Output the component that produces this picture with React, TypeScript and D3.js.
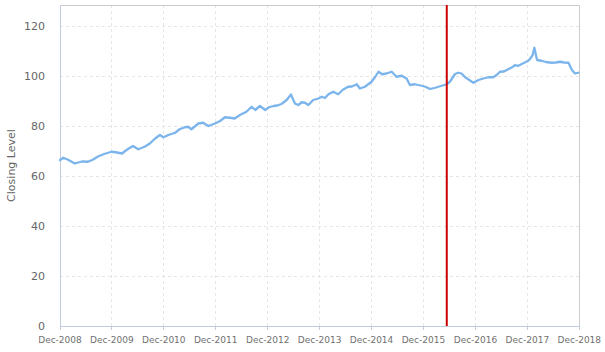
import React from "react";
import * as d3 from "d3";

const dates: string[] = [
  "2008-12-01","2008-12-24","2009-01-27","2009-03-15","2009-05-04","2009-06-16","2009-07-19","2009-08-25","2009-10-07","2009-11-28",
  "2009-12-28","2010-02-10","2010-03-16","2010-04-28","2010-06-04","2010-07-19","2010-08-25","2010-10-01","2010-11-04","2010-11-28",
  "2011-01-07","2011-02-19","2011-03-22","2011-04-28","2011-05-22","2011-06-13","2011-08-01","2011-09-04","2011-10-10","2011-11-25",
  "2012-01-01","2012-02-04","2012-03-10","2012-04-13","2012-05-19","2012-07-04","2012-08-10","2012-09-04","2012-10-07","2012-11-13",
  "2012-12-10","2013-01-10","2013-02-07","2013-03-07","2013-04-13","2013-05-13","2013-06-10","2013-07-04","2013-07-28","2013-08-19",
  "2013-09-13","2013-10-16","2013-11-22","2013-12-16","2014-01-07","2014-02-01","2014-03-07","2014-04-10","2014-05-13","2014-06-19",
  "2014-07-16","2014-08-19","2014-09-10","2014-10-16","2014-12-01","2014-12-25","2015-01-19","2015-02-13","2015-03-16","2015-04-22",
  "2015-05-25","2015-07-01","2015-08-04","2015-08-28","2015-10-01","2015-11-19","2015-12-19","2016-01-16","2016-02-22","2016-04-07",
  "2016-05-13","2016-06-04","2016-07-10","2016-08-01","2016-08-25","2016-09-19","2016-10-16","2016-11-16","2016-12-22","2017-01-25",
  "2017-03-01","2017-04-04","2017-05-01","2017-05-22","2017-06-19","2017-07-19","2017-08-16","2017-09-07","2017-09-25","2017-10-22",
  "2017-11-16","2017-12-07","2017-12-22","2018-01-07","2018-01-19","2018-02-07","2018-03-10","2018-04-10","2018-05-19","2018-06-19",
  "2018-07-19","2018-08-16","2018-09-16","2018-10-10","2018-11-01","2018-11-25"
];

const closingLevels: number[] = [
  66.4,67.3,66.5,65.0,65.8,65.7,66.5,67.8,68.8,69.7,
  69.5,69.0,70.5,72.0,70.7,71.7,73.0,75.0,76.4,75.5,
  76.5,77.3,78.7,79.5,79.7,78.7,81.0,81.3,80.0,81.0,
  82.0,83.5,83.3,83.0,84.4,85.7,87.7,86.4,88.0,86.4,
  87.5,88.0,88.2,88.8,90.4,92.6,89.0,88.4,89.5,89.3,
  88.4,90.4,91.0,91.7,91.2,92.7,93.7,92.7,94.5,95.7,
  95.8,96.7,95.0,95.7,97.7,99.5,101.7,100.7,101.0,101.7,
  99.7,100.1,99.0,96.4,96.7,96.1,95.6,94.8,95.3,96.1,
  96.7,97.7,100.8,101.3,101.0,99.5,98.5,97.3,98.4,99.0,
  99.5,99.5,100.5,101.7,101.8,102.7,103.5,104.4,104.0,104.8,
  105.5,106.1,107.0,108.4,111.3,106.4,106.1,105.6,105.3,105.4,
  105.7,105.4,105.3,102.4,101.0,101.3
];

const xTickDates: string[] = [
  "2008-12-01","2009-12-01","2010-12-01","2011-12-01","2012-12-01","2013-12-01",
  "2014-12-01","2015-12-01","2016-12-01","2017-12-01","2018-12-01"
];
const yTicks: number[] = [0, 20, 40, 60, 80, 100, 120];
const markerDate = "2016-05-13";
const yAxisTitle = "Closing Level";

const W = 605, H = 352;
const left = 60, right = 579.3, top = 5, bottom = 326;

export default function App() {
  const parse = d3.timeParse("%Y-%m-%d");
  const fmt = d3.timeFormat("%b-%Y");
  const x = d3.scaleTime()
    .domain([parse("2008-12-01")!, parse("2018-12-01")!])
    .range([left, right]);
  const y = d3.scaleLinear().domain([0, 128.4]).range([bottom, top]);
  const data = dates.map((d, i) => ({ date: parse(d)!, v: closingLevels[i] }));
  const line = d3.line<{ date: Date; v: number }>()
    .x((d) => x(d.date))
    .y((d) => y(d.v));
  const font = "'DejaVu Sans', Verdana, sans-serif";
  const xm = x(parse(markerDate)!);

  return (
    <svg width={W} height={H} style={{ position: "absolute", left: 0, top: 0, fontFamily: font }}>
      <rect x={0} y={0} width={W} height={H} fill="#fff" />
      {yTicks.map((t) => (
        <line key={"hg" + t} x1={left} x2={right} y1={y(t)} y2={y(t)}
          stroke="#e6e6e6" strokeWidth={1} strokeDasharray="3,3" shapeRendering="crispEdges" />
      ))}
      {xTickDates.map((t) => (
        <line key={"vg" + t} x1={x(parse(t)!)} x2={x(parse(t)!)} y1={top} y2={bottom}
          stroke="#e6e6e6" strokeWidth={1} strokeDasharray="3,3" shapeRendering="crispEdges" />
      ))}
      <rect x={left} y={top} width={right - left} height={bottom - top}
        fill="none" stroke="#cccccc" strokeWidth={1} shapeRendering="crispEdges" />
      <line x1={left} x2={left} y1={top} y2={bottom} stroke="#c0cbe0" shapeRendering="crispEdges" />
      <line x1={left} x2={right} y1={bottom} y2={bottom} stroke="#c0cbe0" shapeRendering="crispEdges" />
      {xTickDates.map((t) => (
        <line key={"tk" + t} x1={x(parse(t)!)} x2={x(parse(t)!)} y1={bottom} y2={bottom + 4}
          stroke="#c0cbe0" shapeRendering="crispEdges" />
      ))}
      <path d={line(data) || ""} fill="none" stroke="#7cb5ec" strokeWidth={2.3}
        strokeLinejoin="round" strokeLinecap="round" />
      <line x1={xm} x2={xm} y1={top} y2={bottom} stroke="#cc0000" strokeWidth={2} />
      {yTicks.map((t) => (
        <text key={"yl" + t} x={45} y={y(t)} dy="0.35em" textAnchor="end"
          fontSize={11} fill="#666666">{t}</text>
      ))}
      {xTickDates.map((t) => (
        <text key={"xl" + t} x={x(parse(t)!)} y={343} textAnchor="middle"
          fontSize={9} fill="#707070">{fmt(parse(t)!)}</text>
      ))}
      <text transform={`translate(15,${(top + bottom) / 2}) rotate(-90)`} textAnchor="middle"
        fontSize={11} fill="#666666">{yAxisTitle}</text>
    </svg>
  );
}
